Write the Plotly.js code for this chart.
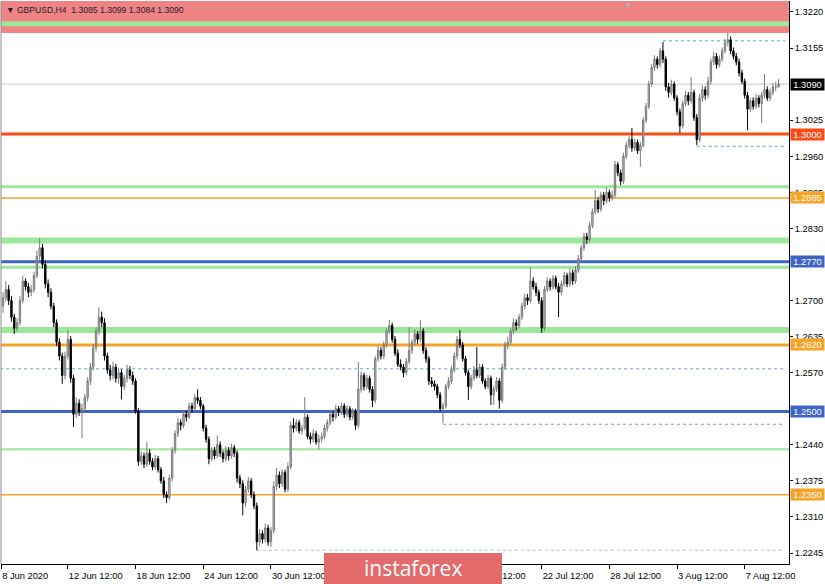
<!DOCTYPE html>
<html>
<head>
<meta charset="utf-8">
<script src="https://cdn.plot.ly/plotly-3.0.1.min.js"></script>
<style>html,body{margin:0;padding:0;background:#fff;}#chart{width:825px;height:584px;}</style>
</head>
<body>
<div id="chart"></div>
<script>
// GBPUSD H4 candles (first bar = 8 Jun 2020 16:00)
const openP = [
1.2690,1.2705,1.2720,1.2700,1.2670,1.2650,1.2660,1.2700,1.2735,1.2725,
1.2715,1.2720,1.2745,1.2780,1.2795,1.2765,1.2730,1.2715,1.2690,1.2660,
1.2625,1.2600,1.2565,1.2600,1.2630,1.2560,1.2495,1.2515,1.2500,1.2505,
1.2525,1.2555,1.2580,1.2615,1.2645,1.2670,1.2660,1.2600,1.2575,1.2565,
1.2580,1.2560,1.2570,1.2545,1.2560,1.2575,1.2565,1.2555,1.2500,1.2410,
1.2420,1.2405,1.2425,1.2410,1.2400,1.2415,1.2395,1.2375,1.2350,1.2345,
1.2380,1.2430,1.2460,1.2480,1.2475,1.2495,1.2490,1.2510,1.2505,1.2525,
1.2520,1.2510,1.2470,1.2450,1.2415,1.2430,1.2420,1.2440,1.2425,1.2415,
1.2430,1.2420,1.2435,1.2425,1.2380,1.2370,1.2335,1.2360,1.2375,1.2350,
1.2330,1.2265,1.2280,1.2270,1.2290,1.2265,1.2285,1.2365,1.2385,1.2370,
1.2390,1.2360,1.2400,1.2475,1.2470,1.2480,1.2465,1.2470,1.2490,1.2455,
1.2450,1.2460,1.2445,1.2450,1.2455,1.2470,1.2480,1.2495,1.2490,1.2505,
1.2500,1.2510,1.2495,1.2505,1.2490,1.2500,1.2475,1.2540,1.2565,1.2545,
1.2560,1.2540,1.2520,1.2595,1.2610,1.2600,1.2620,1.2645,1.2655,1.2630,
1.2605,1.2585,1.2580,1.2570,1.2590,1.2610,1.2625,1.2640,1.2630,1.2645,
1.2610,1.2595,1.2555,1.2550,1.2545,1.2530,1.2505,1.2510,1.2545,1.2555,
1.2575,1.2600,1.2630,1.2620,1.2595,1.2570,1.2545,1.2560,1.2575,1.2565,
1.2580,1.2555,1.2545,1.2560,1.2530,1.2540,1.2555,1.2520,1.2580,1.2620,
1.2625,1.2645,1.2660,1.2655,1.2670,1.2690,1.2705,1.2700,1.2735,1.2725,
1.2715,1.2700,1.2650,1.2720,1.2735,1.2725,1.2740,1.2725,1.2715,1.2730,
1.2745,1.2730,1.2750,1.2735,1.2755,1.2775,1.2795,1.2815,1.2810,1.2835,
1.2860,1.2880,1.2865,1.2890,1.2880,1.2895,1.2885,1.2890,1.2945,1.2930,
1.2915,1.2960,1.2980,1.2990,1.2975,1.2985,1.2970,1.2980,1.3025,1.3050,
1.3090,1.3120,1.3135,1.3125,1.3150,1.3135,1.3085,1.3075,1.3090,1.3065,
1.3040,1.3015,1.3055,1.3070,1.3060,1.3075,1.3030,1.2990,1.3065,1.3080,
1.3070,1.3095,1.3130,1.3140,1.3125,1.3135,1.3150,1.3165,1.3170,1.3150,
1.3140,1.3130,1.3110,1.3095,1.3070,1.3045,1.3060,1.3050,1.3065,1.3055,
1.3070,1.3080,1.3065,1.3075,1.3085,1.3085];
const highP = [
1.2715,1.2735,1.2728,1.2708,1.2676,1.2668,1.2708,1.2745,1.2740,1.2732,
1.2728,1.2752,1.2790,1.2812,1.2802,1.2772,1.2738,1.2722,1.2696,1.2666,
1.2632,1.2606,1.2608,1.2647,1.2636,1.2566,1.2525,1.2522,1.2514,1.2532,
1.2562,1.2588,1.2622,1.2652,1.2688,1.2680,1.2668,1.2606,1.2584,1.2590,
1.2586,1.2578,1.2576,1.2566,1.2584,1.2582,1.2572,1.2560,1.2506,1.2428,
1.2426,1.2445,1.2432,1.2416,1.2422,1.2420,1.2400,1.2382,1.2356,1.2386,
1.2436,1.2466,1.2488,1.2486,1.2500,1.2502,1.2516,1.2516,1.2532,1.2540,
1.2526,1.2514,1.2476,1.2455,1.2436,1.2436,1.2457,1.2446,1.2430,1.2438,
1.2436,1.2442,1.2440,1.2430,1.2386,1.2376,1.2366,1.2382,1.2380,1.2356,
1.2336,1.2288,1.2286,1.2298,1.2296,1.2292,1.2374,1.2398,1.2392,1.2396,
1.2395,1.2408,1.2482,1.2488,1.2486,1.2485,1.2476,1.2526,1.2495,1.2462,
1.2468,1.2465,1.2458,1.2462,1.2476,1.2486,1.2502,1.2500,1.2512,1.2510,
1.2516,1.2515,1.2512,1.2510,1.2506,1.2505,1.2589,1.2572,1.2570,1.2566,
1.2565,1.2546,1.2600,1.2618,1.2616,1.2626,1.2650,1.2665,1.2660,1.2636,
1.2612,1.2594,1.2586,1.2596,1.2652,1.2630,1.2648,1.2645,1.2665,1.2650,
1.2616,1.2600,1.2562,1.2556,1.2550,1.2535,1.2516,1.2550,1.2562,1.2582,
1.2606,1.2636,1.2647,1.2625,1.2600,1.2575,1.2566,1.2582,1.2616,1.2586,
1.2585,1.2560,1.2566,1.2565,1.2546,1.2562,1.2560,1.2586,1.2626,1.2635,
1.2650,1.2668,1.2666,1.2676,1.2696,1.2712,1.2712,1.2760,1.2742,1.2732,
1.2720,1.2706,1.2726,1.2742,1.2740,1.2746,1.2745,1.2732,1.2736,1.2752,
1.2750,1.2758,1.2756,1.2762,1.2782,1.2800,1.2822,1.2822,1.2842,1.2866,
1.2899,1.2886,1.2896,1.2896,1.2904,1.2900,1.2898,1.2952,1.2950,1.2936,
1.2966,1.2986,1.2996,1.3011,1.2992,1.2990,1.2986,1.3030,1.3056,1.3096,
1.3126,1.3142,1.3140,1.3155,1.3166,1.3140,1.3092,1.3098,1.3095,1.3070,
1.3046,1.3060,1.3078,1.3076,1.3103,1.3080,1.3036,1.3072,1.3088,1.3086,
1.3103,1.3136,1.3148,1.3146,1.3142,1.3156,1.3172,1.3182,1.3176,1.3156,
1.3146,1.3136,1.3116,1.3100,1.3076,1.3066,1.3066,1.3072,1.3070,1.3076,
1.3108,1.3086,1.3082,1.3092,1.3094,1.3099];
const lowP = [
1.2678,1.2698,1.2692,1.2662,1.2640,1.2644,1.2655,1.2695,1.2718,1.2706,
1.2708,1.2714,1.2740,1.2772,1.2758,1.2722,1.2706,1.2684,1.2652,1.2618,
1.2592,1.2550,1.2558,1.2594,1.2552,1.2472,1.2488,1.2492,1.2452,1.2498,
1.2518,1.2548,1.2574,1.2608,1.2638,1.2652,1.2592,1.2568,1.2556,1.2558,
1.2552,1.2550,1.2522,1.2538,1.2552,1.2558,1.2548,1.2496,1.2402,1.2404,
1.2398,1.2400,1.2404,1.2394,1.2395,1.2390,1.2370,1.2344,1.2335,1.2340,
1.2374,1.2424,1.2454,1.2466,1.2470,1.2482,1.2486,1.2498,1.2500,1.2514,
1.2504,1.2464,1.2444,1.2405,1.2410,1.2414,1.2416,1.2418,1.2408,1.2410,
1.2412,1.2415,1.2418,1.2372,1.2362,1.2313,1.2328,1.2354,1.2344,1.2324,
1.2250,1.2258,1.2262,1.2264,1.2258,1.2256,1.2280,1.2358,1.2362,1.2364,
1.2354,1.2355,1.2396,1.2462,1.2464,1.2460,1.2458,1.2466,1.2450,1.2442,
1.2444,1.2440,1.2432,1.2444,1.2450,1.2464,1.2475,1.2482,1.2486,1.2492,
1.2494,1.2488,1.2490,1.2484,1.2485,1.2467,1.2470,1.2534,1.2538,1.2540,
1.2534,1.2508,1.2515,1.2590,1.2594,1.2595,1.2615,1.2640,1.2624,1.2600,
1.2580,1.2574,1.2562,1.2565,1.2585,1.2604,1.2620,1.2622,1.2625,1.2604,
1.2588,1.2548,1.2544,1.2538,1.2524,1.2500,1.2479,1.2505,1.2540,1.2550,
1.2570,1.2594,1.2614,1.2590,1.2565,1.2521,1.2540,1.2555,1.2560,1.2560,
1.2550,1.2540,1.2540,1.2512,1.2512,1.2535,1.2505,1.2515,1.2575,1.2612,
1.2620,1.2640,1.2646,1.2650,1.2665,1.2684,1.2692,1.2695,1.2720,1.2708,
1.2694,1.2642,1.2645,1.2715,1.2718,1.2720,1.2720,1.2670,1.2710,1.2725,
1.2724,1.2725,1.2728,1.2730,1.2750,1.2770,1.2790,1.2802,1.2805,1.2830,
1.2855,1.2858,1.2860,1.2872,1.2875,1.2878,1.2880,1.2885,1.2924,1.2908,
1.2910,1.2955,1.2974,1.2968,1.2970,1.2964,1.2941,1.2975,1.3020,1.3045,
1.3085,1.3114,1.3118,1.3120,1.3128,1.3078,1.3066,1.3070,1.3060,1.3034,
1.3002,1.3010,1.3050,1.3052,1.3055,1.3024,1.2980,1.2985,1.3058,1.3062,
1.3065,1.3090,1.3124,1.3118,1.3120,1.3130,1.3145,1.3158,1.3144,1.3134,
1.3124,1.3104,1.3090,1.3064,1.3007,1.3040,1.3044,1.3045,1.3048,1.3020,
1.3064,1.3060,1.3060,1.3070,1.3078,1.3084];
const closeP = [
1.2705,1.2720,1.2700,1.2670,1.2650,1.2660,1.2700,1.2735,1.2725,1.2715,
1.2720,1.2745,1.2780,1.2795,1.2765,1.2730,1.2715,1.2690,1.2660,1.2625,
1.2600,1.2565,1.2600,1.2630,1.2560,1.2495,1.2515,1.2500,1.2505,1.2525,
1.2555,1.2580,1.2615,1.2645,1.2670,1.2660,1.2600,1.2575,1.2565,1.2580,
1.2560,1.2570,1.2545,1.2560,1.2575,1.2565,1.2555,1.2500,1.2410,1.2420,
1.2405,1.2425,1.2410,1.2400,1.2415,1.2395,1.2375,1.2350,1.2345,1.2380,
1.2430,1.2460,1.2480,1.2475,1.2495,1.2490,1.2510,1.2505,1.2525,1.2520,
1.2510,1.2470,1.2450,1.2415,1.2430,1.2420,1.2440,1.2425,1.2415,1.2430,
1.2420,1.2435,1.2425,1.2380,1.2370,1.2335,1.2360,1.2375,1.2350,1.2330,
1.2265,1.2280,1.2270,1.2290,1.2265,1.2285,1.2365,1.2385,1.2370,1.2390,
1.2360,1.2400,1.2475,1.2470,1.2480,1.2465,1.2470,1.2490,1.2455,1.2450,
1.2460,1.2445,1.2450,1.2455,1.2470,1.2480,1.2495,1.2490,1.2505,1.2500,
1.2510,1.2495,1.2505,1.2490,1.2500,1.2475,1.2540,1.2565,1.2545,1.2560,
1.2540,1.2520,1.2595,1.2610,1.2600,1.2620,1.2645,1.2655,1.2630,1.2605,
1.2585,1.2580,1.2570,1.2590,1.2610,1.2625,1.2640,1.2630,1.2645,1.2610,
1.2595,1.2555,1.2550,1.2545,1.2530,1.2505,1.2510,1.2545,1.2555,1.2575,
1.2600,1.2630,1.2620,1.2595,1.2570,1.2545,1.2560,1.2575,1.2565,1.2580,
1.2555,1.2545,1.2560,1.2530,1.2540,1.2555,1.2520,1.2580,1.2620,1.2625,
1.2645,1.2660,1.2655,1.2670,1.2690,1.2705,1.2700,1.2735,1.2725,1.2715,
1.2700,1.2650,1.2720,1.2735,1.2725,1.2740,1.2725,1.2715,1.2730,1.2745,
1.2730,1.2750,1.2735,1.2755,1.2775,1.2795,1.2815,1.2810,1.2835,1.2860,
1.2880,1.2865,1.2890,1.2880,1.2895,1.2885,1.2890,1.2945,1.2930,1.2915,
1.2960,1.2980,1.2990,1.2975,1.2985,1.2970,1.2980,1.3025,1.3050,1.3090,
1.3120,1.3135,1.3125,1.3150,1.3135,1.3085,1.3075,1.3090,1.3065,1.3040,
1.3015,1.3055,1.3070,1.3060,1.3075,1.3030,1.2990,1.3065,1.3080,1.3070,
1.3095,1.3130,1.3140,1.3125,1.3135,1.3150,1.3165,1.3170,1.3150,1.3140,
1.3130,1.3110,1.3095,1.3070,1.3045,1.3060,1.3050,1.3065,1.3055,1.3070,
1.3080,1.3065,1.3075,1.3085,1.3085,1.3090];

// time axis labels (bar index of each visible label)
const timeTickIndex = [-0.65, 23, 47, 71, 95, 167, 191, 215, 239, 263];
const timeTickText = ["8 Jun 2020", "12 Jun 12:00", "18 Jun 12:00", "24 Jun 12:00", "30 Jun 12:00",
  "16 Jul 12:00", "22 Jul 12:00", "28 Jul 12:00", "3 Aug 12:00", "7 Aug 12:00"];
// price axis labels (those not hidden by level boxes)
const priceTicks = [1.3220,1.3155,1.3025,1.2960,1.2895,1.2830,1.2700,1.2635,1.2570,1.2440,1.2375,1.2310,1.2245];

// levels
const resistanceZone = [1.3182, 1.3250];
const greenLevels = [1.3199, 1.2905, 1.2808, 1.2760, 1.2647, 1.2432];
const keyLevels = [1.3000, 1.2885, 1.2770, 1.2620, 1.2500, 1.2350];
const dottedLevels = [1.3168, 1.2978, 1.2577, 1.2477, 1.2250];
const dottedStartIndex = [234, 246, -1, 156, 90];
const lastPrice = 1.3090;
const headerText = "GBPUSD,H4  1.3085 1.3099 1.3084 1.3090";

// ---- styles ----
const FONT = 'Liberation Sans, Arial, sans-serif';
const greenWidths = [5, 3, 6, 3, 6, 2];
const keyStyles = [
  {c: '#ff4a12', w: 3}, {c: '#f7a325', w: 1.5}, {c: '#3e63c6', w: 3},
  {c: '#f7a325', w: 3}, {c: '#3e63c6', w: 3}, {c: '#f7a325', w: 1.5}
];
const XMIN = -0.71, XMAX = 278.7;
const YMIN = 1.22252, YMAX = 1.32398;

const idx = openP.map((_, i) => i);
const candles = {
  type: 'candlestick', x: idx, open: openP, high: highP, low: lowP, close: closeP,
  increasing: {line: {color: '#7a7a7a', width: 1}, fillcolor: '#c4c4c4'},
  decreasing: {line: {color: '#000000', width: 1}, fillcolor: '#000000'},
  whiskerwidth: 0, hoverinfo: 'none', showlegend: false
};

const shapes = [];
shapes.push({type: 'rect', xref: 'paper', yref: 'y', x0: 0, x1: 1, y0: resistanceZone[0], y1: resistanceZone[1],
  fillcolor: '#f08383', line: {width: 0}, layer: 'below'});
greenLevels.forEach((p, k) => shapes.push({type: 'line', xref: 'paper', yref: 'y', x0: 0, x1: 1, y0: p, y1: p,
  line: {color: '#9be89b', width: greenWidths[k]}, layer: 'below'}));
shapes.push({type: 'line', xref: 'paper', yref: 'y', x0: 0, x1: 1, y0: lastPrice, y1: lastPrice,
  line: {color: '#c8c8c8', width: 1}, layer: 'below'});
dottedLevels.forEach((p, k) => shapes.push({type: 'line', xref: 'x', yref: 'y', x0: dottedStartIndex[k], x1: XMAX - 1.3, y0: p, y1: p,
  line: {color: k === 4 ? '#8fd6b5' : '#6d9fd3', width: 1, dash: 'dot'}, layer: 'below'}));
keyLevels.forEach((p, k) => shapes.push({type: 'line', xref: 'paper', yref: 'y', x0: 0, x1: 1, y0: p, y1: p,
  line: {color: keyStyles[k].c, width: keyStyles[k].w}, layer: 'below'}));
// left border
shapes.push({type: 'line', xref: 'paper', yref: 'paper', x0: 0, x1: 0, y0: 0, y1: 1, line: {color: '#8a8a8a', width: 1}});
// watermark box
shapes.push({type: 'rect', xref: 'paper', yref: 'paper', x0: 0.4099, x1: 0.6358, y0: 0.0195, y1: -0.04,
  fillcolor: '#e36b6b', line: {width: 0}, layer: 'above'});

const annotations = [];
const boxLabel = (p, bg) => ({xref: 'paper', yref: 'y', x: 1, y: p, xanchor: 'left', yanchor: 'middle', xshift: 1,
  text: p.toFixed(4), showarrow: false, bgcolor: bg, width: 33, height: 11, borderpad: 0, align: 'center',
  font: {family: FONT, size: 9.3, color: '#ffffff'}});
annotations.push(boxLabel(lastPrice, '#000000'));
keyLevels.forEach((p, k) => annotations.push(boxLabel(p, keyStyles[k].c)));
annotations.push({xref: 'paper', yref: 'paper', x: 0, y: 1, xanchor: 'left', yanchor: 'top', xshift: 3, yshift: -2,
  text: '▼ ' + headerText, showarrow: false,
  font: {family: FONT, size: 8.6, color: '#1e1e2a'}});
annotations.push({xref: 'paper', yref: 'paper', x: 0.7957, y: 1, xanchor: 'center', yanchor: 'top', yshift: 2,
  text: '▼', showarrow: false, font: {size: 8, color: '#b4b4b4'}});
annotations.push({xref: 'paper', yref: 'paper', x: 0.5228, y: -0.007, xanchor: 'center', yanchor: 'middle',
  text: 'instaforex', showarrow: false, font: {family: 'Open Sans, sans-serif', size: 21, color: '#ffffff'}});

const layout = {
  width: 825, height: 584,
  margin: {l: 1, r: 36, t: 1, b: 20, pad: 0},
  paper_bgcolor: '#ffffff', plot_bgcolor: '#ffffff',
  showlegend: false,
  font: {family: FONT, size: 9.5, color: '#000'},
  xaxis: {
    range: [XMIN, XMAX], type: 'linear', rangeslider: {visible: false},
    tickmode: 'array', tickvals: timeTickIndex, ticktext: timeTickText,
    ticks: 'outside', ticklen: 4, tickcolor: '#000', tickwidth: 1,
    ticklabelposition: 'outside right', ticklabelstandoff: 3,
    showgrid: false, zeroline: false, showline: true, linecolor: '#000', linewidth: 1,
    tickfont: {family: FONT, size: 9.3, color: '#000'},
    fixedrange: true
  },
  yaxis: {
    range: [YMIN, YMAX], side: 'right',
    tickmode: 'array', tickvals: priceTicks, ticktext: priceTicks.map(v => v.toFixed(4)),
    ticks: 'outside', ticklen: 3, tickcolor: '#000', tickwidth: 1,
    showgrid: false, zeroline: false, showline: true, linecolor: '#000', linewidth: 1,
    tickfont: {family: FONT, size: 9.3, color: '#000'},
    fixedrange: true
  },
  shapes: shapes,
  annotations: annotations
};

Plotly.newPlot('chart', [candles], layout, {displayModeBar: false, staticPlot: true});
</script>
</body>
</html>
